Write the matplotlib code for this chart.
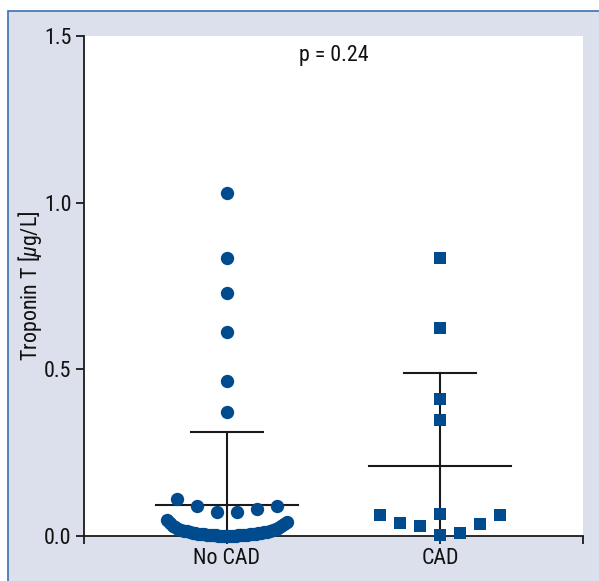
import numpy as np
import matplotlib
matplotlib.use("Agg")
import matplotlib.pyplot as plt
from matplotlib.patches import Rectangle

plt.rcParams['font.family'] = ['Roboto Condensed', 'DejaVu Sans']
plt.rcParams['mathtext.fontset'] = 'custom'
plt.rcParams['mathtext.it'] = 'Roboto Condensed:italic'
plt.rcParams['mathtext.rm'] = 'Roboto Condensed'

# ---------------- data ----------------
categories = ["No CAD", "CAD"]
no_cad_values = [
    1.03, 0.835, 0.73, 0.612, 0.465, 0.372,
    0.111, 0.090, 0.072, 0.072, 0.081, 0.090,
    0.000, 0.000, 0.000, 0.000, 0.001, 0.001, 0.001, 0.002, 0.002, 0.002,
    0.003, 0.003, 0.003, 0.004, 0.004, 0.005, 0.005, 0.006, 0.006, 0.007,
    0.007, 0.008, 0.009, 0.010, 0.010, 0.011, 0.012, 0.013, 0.014,
    0.015, 0.016, 0.018, 0.019, 0.021, 0.022, 0.025, 0.026, 0.030,
    0.031, 0.036, 0.038, 0.043, 0.048,
]
cad_values = [0.835, 0.624, 0.411, 0.348, 0.067, 0.003,
              0.063, 0.039, 0.030, 0.009, 0.036, 0.063]
yticks = [0.0, 0.5, 1.0, 1.5]
ytick_labels = ["0.0", "0.5", "1.0", "1.5"]
p_text = "p = 0.24"

# ---------------- style ----------------
BLUE = "#004a8e"
BG = "#dcdfec"
BIN = 0.065
MAX_STEP = 0.094   # x units per slot
HALF_WIDTH = 0.282
FS = 15.8


def layout(values, center):
    vals = np.asarray(values, float)
    bins = np.floor(vals / BIN).astype(int)
    xs = np.zeros_like(vals)
    for b in np.unique(bins):
        idx = np.where(bins == b)[0]
        n = len(idx)
        if n == 1:
            xs[idx] = center
            continue
        step = min(MAX_STEP, 2 * HALF_WIDTH / (n - 1))
        offs = (np.arange(n) - (n - 1) / 2) * step
        # slots by distance from centre, right first
        order = sorted(range(n), key=lambda k: (round(abs(offs[k]), 6), -offs[k]))
        ranked = idx[np.argsort(vals[idx], kind="stable")]
        for r, slot in zip(ranked, order):
            xs[r] = center + offs[slot]
    return xs, vals


fig = plt.figure(figsize=(5.99, 5.81), dpi=100)
fig.patch.set_facecolor("white")
bg = Rectangle((8 / 599, -0.01), 1.0, (581 - 11) / 581 + 0.01,
               transform=fig.transFigure, facecolor=BG,
               edgecolor="#3b6fb3", linewidth=1.2, zorder=-10)
fig.patches.append(bg)

ax = fig.add_axes([84 / 599, (581 - 536) / 581, (583 - 84) / 599, 500 / 581])
ax.set_zorder(1)
ax.set_facecolor("white")
ax.set_xlim(0.329, 2.671)
ax.set_ylim(0, 1.5)

for i, (vals, marker, ms) in enumerate([(no_cad_values, "o", 9.6), (cad_values, "s", 8.4)]):
    c = i + 1
    xs, ys = layout(vals, c)
    ax.plot(xs, ys, linestyle="none", marker=marker, markersize=ms,
            color=BLUE, markeredgewidth=0, clip_on=False, zorder=3)
    m = np.mean(vals)
    sd = np.std(vals, ddof=1)
    ax.plot([c - 0.335, c + 0.335], [m, m], color="#1a1a1a", lw=1.5, zorder=2)
    ax.plot([c, c], [m - sd, m + sd], color="#1a1a1a", lw=1.5, zorder=2)
    ax.plot([c - 0.17, c + 0.17], [m + sd, m + sd], color="#1a1a1a", lw=1.5, zorder=2)

for s in ["top", "right"]:
    ax.spines[s].set_visible(False)
for s in ["left", "bottom"]:
    ax.spines[s].set_linewidth(1.3)
    ax.spines[s].set_color("#1a1a1a")

ax.set_yticks(yticks)
ax.set_yticklabels(ytick_labels)
ax.set_xticks([0.329, 1, 2, 2.671])
ax.set_xticklabels(["", categories[0], categories[1], ""])
ax.tick_params(axis="both", direction="out", length=6, width=1.3, color="#1a1a1a",
               labelsize=FS, pad=3, labelcolor="#111111")
ax.set_ylabel(r"Troponin T [$\mu$g/L]", fontsize=FS, va="center", color="#111111")
ax.yaxis.set_label_coords(-0.108, 0.5)
ax.text(0.5, 0.962, p_text, transform=ax.transAxes, ha="center", va="center",
        fontsize=FS, color="#111111")

fig.savefig("out.png", dpi=100)
